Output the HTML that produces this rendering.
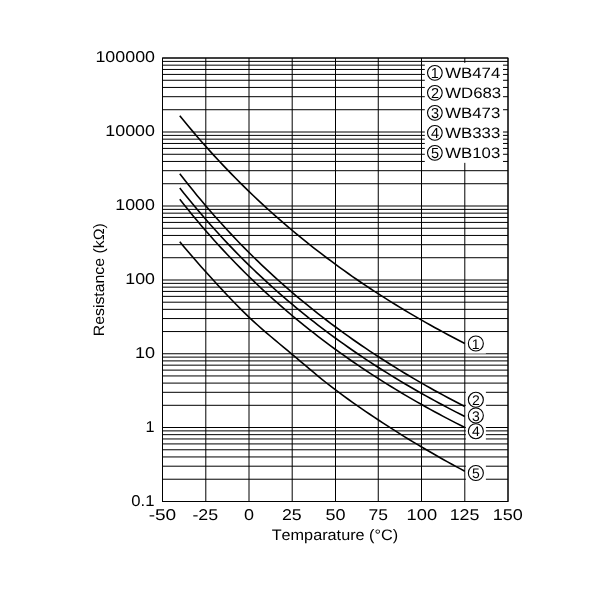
<!DOCTYPE html>
<html><head><meta charset="utf-8"><style>html,body{margin:0;padding:0;background:#fff;overflow:hidden;}svg{display:block;filter:grayscale(1);}text{font-family:"Liberation Sans",sans-serif;font-kerning:none;fill:#000;}</style></head>
<body>
<svg width="600" height="600" viewBox="0 0 600 600" text-rendering="geometricPrecision">
<rect width="600" height="600" fill="#fff"/>
<path d="M162.50,501.50H508.00M162.50,479.22H508.00M162.50,466.19H508.00M162.50,456.95H508.00M162.50,449.78H508.00M162.50,443.92H508.00M162.50,438.96H508.00M162.50,434.67H508.00M162.50,430.89H508.00M162.50,427.50H508.00M162.50,405.30H508.00M162.50,392.31H508.00M162.50,383.10H508.00M162.50,375.95H508.00M162.50,370.11H508.00M162.50,365.17H508.00M162.50,360.90H508.00M162.50,357.12H508.00M162.50,353.75H508.00M162.50,331.55H508.00M162.50,318.56H508.00M162.50,309.35H508.00M162.50,302.20H508.00M162.50,296.36H508.00M162.50,291.42H508.00M162.50,287.15H508.00M162.50,283.37H508.00M162.50,280.00H508.00M162.50,257.72H508.00M162.50,244.69H508.00M162.50,235.45H508.00M162.50,228.28H508.00M162.50,222.42H508.00M162.50,217.46H508.00M162.50,213.17H508.00M162.50,209.39H508.00M162.50,206.00H508.00M162.50,183.72H508.00M162.50,170.69H508.00M162.50,161.45H508.00M162.50,154.28H508.00M162.50,148.42H508.00M162.50,143.46H508.00M162.50,139.17H508.00M162.50,135.39H508.00M162.50,132.00H508.00M162.50,109.72H508.00M162.50,96.69H508.00M162.50,87.45H508.00M162.50,80.28H508.00M162.50,74.42H508.00M162.50,69.46H508.00M162.50,65.17H508.00M162.50,61.39H508.00M162.50,58.00H508.00M162.50,58.00V501.50M205.80,58.00V501.50M249.00,58.00V501.50M292.20,58.00V501.50M335.50,58.00V501.50M378.25,58.00V501.50M421.50,58.00V501.50M464.80,58.00V501.50M508.00,58.00V501.50" stroke="#000" stroke-width="1" fill="none"/>
<rect x="162.50" y="58.00" width="345.50" height="443.50" stroke="#000" stroke-width="1" fill="none"/>
<path d="M179.78,115.75 L184.09,121.04 L188.41,126.26 L192.73,131.38 L197.05,136.43 L201.37,141.40 L205.69,146.30 L210.01,151.12 L214.32,155.86 L218.64,160.53 L222.96,165.14 L227.28,169.67 L231.60,174.13 L235.92,178.53 L240.24,182.87 L244.56,187.14 L248.88,191.35 L253.19,195.49 L257.51,199.58 L261.83,203.61 L266.15,207.58 L270.47,211.50 L274.79,215.36 L279.11,219.16 L283.43,222.91 L287.74,226.61 L292.06,230.26 L296.38,233.86 L300.70,237.42 L305.02,240.92 L309.34,244.37 L313.66,247.78 L317.98,251.15 L322.29,254.47 L326.61,257.75 L330.93,260.98 L335.25,264.17 L339.57,267.32 L343.89,270.43 L348.21,273.50 L352.52,276.53 L356.84,279.53 L361.16,282.47 L365.48,285.38 L369.80,288.26 L374.12,291.09 L378.44,293.90 L382.76,296.66 L387.08,299.40 L391.39,302.10 L395.71,304.77 L400.03,307.41 L404.35,310.01 L408.67,312.59 L412.99,315.14 L417.31,317.65 L421.62,320.14 L425.94,322.60 L430.26,325.03 L434.58,327.43 L438.90,329.80 L443.22,332.15 L447.54,334.47 L451.86,336.77 L456.18,339.04 L460.49,341.28 L464.81,343.50" stroke="#000" stroke-width="1.6" fill="none" stroke-linejoin="round"/>
<path d="M179.78,173.70 L184.09,179.27 L188.41,184.74 L192.73,190.12 L197.05,195.41 L201.37,200.61 L205.69,205.72 L210.01,210.75 L214.32,215.69 L218.64,220.55 L222.96,225.33 L227.28,230.03 L231.60,234.66 L235.92,239.21 L240.24,243.70 L244.56,248.11 L248.88,252.45 L253.19,256.72 L257.51,260.93 L261.83,265.08 L266.15,269.16 L270.47,273.18 L274.79,277.14 L279.11,281.03 L283.43,284.86 L287.74,288.63 L292.06,292.35 L296.38,296.02 L300.70,299.63 L305.02,303.19 L309.34,306.70 L313.66,310.16 L317.98,313.57 L322.29,316.93 L326.61,320.25 L330.93,323.52 L335.25,326.75 L339.57,329.93 L343.89,333.07 L348.21,336.17 L352.52,339.23 L356.84,342.24 L361.16,345.22 L365.48,348.16 L369.80,351.06 L374.12,353.92 L378.44,356.74 L382.76,359.53 L387.08,362.29 L391.39,365.01 L395.71,367.69 L400.03,370.34 L404.35,372.96 L408.67,375.55 L412.99,378.11 L417.31,380.63 L421.62,383.12 L425.94,385.59 L430.26,388.02 L434.58,390.43 L438.90,392.81 L443.22,395.16 L447.54,397.48 L451.86,399.77 L456.18,402.04 L460.49,404.28 L464.81,406.50" stroke="#000" stroke-width="1.6" fill="none" stroke-linejoin="round"/>
<path d="M179.78,188.00 L184.09,193.44 L188.41,198.79 L192.73,204.05 L197.05,209.22 L201.37,214.31 L205.69,219.31 L210.01,224.22 L214.32,229.06 L218.64,233.82 L222.96,238.50 L227.28,243.11 L231.60,247.64 L235.92,252.10 L240.24,256.49 L244.56,260.82 L248.88,265.07 L253.19,269.26 L257.51,273.39 L261.83,277.45 L266.15,281.45 L270.47,285.38 L274.79,289.25 L279.11,293.07 L283.43,296.83 L287.74,300.53 L292.06,304.18 L296.38,307.78 L300.70,311.33 L305.02,314.82 L309.34,318.27 L313.66,321.67 L317.98,325.02 L322.29,328.33 L326.61,331.59 L330.93,334.81 L335.25,337.98 L339.57,341.11 L343.89,344.20 L348.21,347.24 L352.52,350.25 L356.84,353.22 L361.16,356.15 L365.48,359.04 L369.80,361.89 L374.12,364.71 L378.44,367.49 L382.76,370.23 L387.08,372.94 L391.39,375.62 L395.71,378.27 L400.03,380.88 L404.35,383.46 L408.67,386.00 L412.99,388.52 L417.31,391.01 L421.62,393.46 L425.94,395.89 L430.26,398.29 L434.58,400.66 L438.90,403.00 L443.22,405.32 L447.54,407.61 L451.86,409.87 L456.18,412.10 L460.49,414.31 L464.81,416.50" stroke="#000" stroke-width="1.6" fill="none" stroke-linejoin="round"/>
<path d="M179.78,199.30 L184.09,204.76 L188.41,210.12 L192.73,215.39 L197.05,220.57 L201.37,225.66 L205.69,230.67 L210.01,235.59 L214.32,240.44 L218.64,245.20 L222.96,249.88 L227.28,254.49 L231.60,259.03 L235.92,263.49 L240.24,267.89 L244.56,272.21 L248.88,276.47 L253.19,280.65 L257.51,284.76 L261.83,288.81 L266.15,292.80 L270.47,296.73 L274.79,300.60 L279.11,304.41 L283.43,308.16 L287.74,311.86 L292.06,315.51 L296.38,319.10 L300.70,322.64 L305.02,326.14 L309.34,329.58 L313.66,332.97 L317.98,336.32 L322.29,339.62 L326.61,342.87 L330.93,346.08 L335.25,349.24 L339.57,352.37 L343.89,355.45 L348.21,358.49 L352.52,361.48 L356.84,364.44 L361.16,367.36 L365.48,370.25 L369.80,373.09 L374.12,375.90 L378.44,378.67 L382.76,381.41 L387.08,384.11 L391.39,386.78 L395.71,389.41 L400.03,392.02 L404.35,394.59 L408.67,397.13 L412.99,399.63 L417.31,402.11 L421.62,404.56 L425.94,406.98 L430.26,409.37 L434.58,411.73 L438.90,414.06 L443.22,416.37 L447.54,418.64 L451.86,420.90 L456.18,423.12 L460.49,425.32 L464.81,427.50" stroke="#000" stroke-width="1.6" fill="none" stroke-linejoin="round"/>
<path d="M179.78,241.75 L184.09,246.90 L188.41,252.01 L192.73,257.05 L197.05,262.03 L201.37,266.93 L205.69,271.75 L210.01,276.52 L214.32,281.26 L218.64,285.98 L222.96,290.64 L227.28,295.26 L231.60,299.80 L235.92,304.26 L240.24,308.63 L244.56,312.90 L248.88,317.05 L253.19,321.08 L257.51,325.00 L261.83,328.82 L266.15,332.56 L270.47,336.25 L274.79,339.89 L279.11,343.49 L283.43,347.09 L287.74,350.68 L292.06,354.30 L296.38,357.94 L300.70,361.58 L305.02,365.23 L309.34,368.85 L313.66,372.46 L317.98,376.02 L322.29,379.54 L326.61,383.00 L330.93,386.39 L335.25,389.70 L339.57,392.94 L343.89,396.12 L348.21,399.25 L352.52,402.33 L356.84,405.36 L361.16,408.36 L365.48,411.31 L369.80,414.24 L374.12,417.13 L378.44,420.00 L382.76,422.84 L387.08,425.65 L391.39,428.42 L395.71,431.17 L400.03,433.88 L404.35,436.56 L408.67,439.22 L412.99,441.84 L417.31,444.43 L421.62,447.00 L425.94,449.54 L430.26,452.05 L434.58,454.54 L438.90,457.00 L443.22,459.44 L447.54,461.85 L451.86,464.23 L456.18,466.58 L460.49,468.91 L464.81,471.20" stroke="#000" stroke-width="1.6" fill="none" stroke-linejoin="round"/>
<rect x="424.8" y="62.85" width="78.20" height="100.00" fill="#fff"/>
<circle cx="434.85" cy="72.85" r="7.35" stroke="#000" stroke-width="1.1" fill="none"/>
<text transform="translate(430.770,77.850) scale(1.0000,1)"  font-size="14.5">1</text>
<text transform="translate(445.176,77.600) scale(1.1195,1)"  font-size="15.0">WB474</text>
<circle cx="434.85" cy="92.85" r="7.35" stroke="#000" stroke-width="1.1" fill="none"/>
<text transform="translate(430.968,97.850) scale(1.0000,1)"  font-size="14.5">2</text>
<text transform="translate(445.176,97.600) scale(1.1195,1)"  font-size="15.0">WD683</text>
<circle cx="434.85" cy="112.85" r="7.35" stroke="#000" stroke-width="1.1" fill="none"/>
<text transform="translate(431.010,117.850) scale(1.0000,1)"  font-size="14.5">3</text>
<text transform="translate(445.176,117.600) scale(1.1195,1)"  font-size="15.0">WB473</text>
<circle cx="434.85" cy="132.85" r="7.35" stroke="#000" stroke-width="1.1" fill="none"/>
<text transform="translate(431.014,137.850) scale(1.0000,1)"  font-size="14.5">4</text>
<text transform="translate(445.176,137.600) scale(1.1195,1)"  font-size="15.0">WB333</text>
<circle cx="434.85" cy="152.85" r="7.35" stroke="#000" stroke-width="1.1" fill="none"/>
<text transform="translate(430.982,157.850) scale(1.0000,1)"  font-size="14.5">5</text>
<text transform="translate(445.176,157.600) scale(1.1195,1)"  font-size="15.0">WB103</text>
<rect x="465.9" y="333.50" width="20" height="20" fill="#fff"/>
<rect x="465.9" y="389.80" width="20" height="20" fill="#fff"/>
<rect x="465.9" y="405.50" width="20" height="20" fill="#fff"/>
<rect x="465.9" y="421.20" width="20" height="20" fill="#fff"/>
<rect x="465.9" y="463.00" width="20" height="20" fill="#fff"/>
<circle cx="475.85" cy="343.5" r="7.5" stroke="#000" stroke-width="1.1" fill="none"/>
<text transform="translate(471.766,348.500) scale(1.0000,1)"  font-size="14.0">1</text>
<circle cx="475.85" cy="399.8" r="7.5" stroke="#000" stroke-width="1.1" fill="none"/>
<text transform="translate(471.957,404.800) scale(1.0000,1)"  font-size="14.0">2</text>
<circle cx="475.85" cy="415.5" r="7.5" stroke="#000" stroke-width="1.1" fill="none"/>
<text transform="translate(471.998,420.500) scale(1.0000,1)"  font-size="14.0">3</text>
<circle cx="475.85" cy="431.2" r="7.5" stroke="#000" stroke-width="1.1" fill="none"/>
<text transform="translate(472.001,436.200) scale(1.0000,1)"  font-size="14.0">4</text>
<circle cx="475.85" cy="473.0" r="7.5" stroke="#000" stroke-width="1.1" fill="none"/>
<text transform="translate(471.971,478.000) scale(1.0000,1)"  font-size="14.0">5</text>
<text transform="translate(131.349,505.800) scale(1.0682,1)"  font-size="15.6">0.1</text>
<text transform="translate(145.463,431.800) scale(1.0407,1)"  font-size="15.6">1</text>
<text transform="translate(134.925,358.050) scale(1.1572,1)"  font-size="15.6">10</text>
<text transform="translate(125.346,284.300) scale(1.1391,1)"  font-size="15.6">100</text>
<text transform="translate(115.346,210.300) scale(1.1396,1)"  font-size="15.6">1000</text>
<text transform="translate(105.343,136.300) scale(1.1423,1)"  font-size="15.6">10000</text>
<text transform="translate(95.440,62.300) scale(1.1441,1)"  font-size="15.6">100000</text>
<text transform="translate(148.652,520.300) scale(1.2239,1)"  font-size="15.6">-50</text>
<text transform="translate(192.409,520.300) scale(1.1416,1)"  font-size="15.6">-25</text>
<text transform="translate(243.997,520.300) scale(1.1532,1)"  font-size="15.6">0</text>
<text transform="translate(282.008,520.300) scale(1.1375,1)"  font-size="15.6">25</text>
<text transform="translate(325.377,520.300) scale(1.1571,1)"  font-size="15.6">50</text>
<text transform="translate(368.504,520.300) scale(1.1197,1)"  font-size="15.6">75</text>
<text transform="translate(406.607,520.300) scale(1.1721,1)"  font-size="15.6">100</text>
<text transform="translate(449.639,520.300) scale(1.1454,1)"  font-size="15.6">125</text>
<text transform="translate(492.627,520.300) scale(1.1556,1)"  font-size="15.6">150</text>
<text transform="translate(271.635,539.800) scale(1.0693,1)"  font-size="15.2">Temparature (°C)</text>
<text transform="translate(103.600,336.198) rotate(-90) scale(1.0547,1)"  font-size="15.0">Resistance (kΩ)</text>
</svg>
</body></html>
